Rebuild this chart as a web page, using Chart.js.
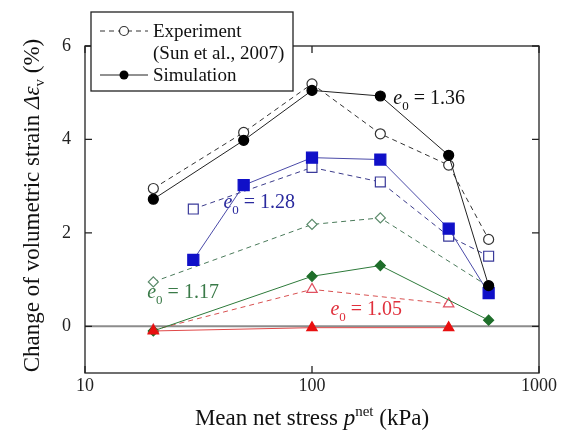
<!DOCTYPE html>
<html><head><meta charset="utf-8">
<script src="https://cdn.jsdelivr.net/npm/chart.js@4"></script>
<style>html,body{margin:0;padding:0;background:#fff;}</style>
</head><body>
<canvas id="c" width="563" height="432" style="display:block;width:563px;height:432px"></canvas>
<script>
// ---- data ----
const xTicks = [10, 100, 1000];
const yTicks = [0, 2, 4, 6];

const xExp136 = [20, 50, 100, 200, 400, 600];
const yExp136 = [2.95, 4.15, 5.19, 4.12, 3.45, 1.86];
const xSim136 = [20, 50, 100, 200, 400, 600];
const ySim136 = [2.72, 3.98, 5.05, 4.93, 3.66, 0.87];

const xExp128 = [30, 100, 200, 400, 600];
const yExp128 = [2.51, 3.40, 3.09, 1.93, 1.50];
const xSim128 = [30, 50, 100, 200, 400, 600];
const ySim128 = [1.42, 3.02, 3.61, 3.57, 2.09, 0.71];

const xExp117 = [20, 100, 200, 600];
const yExp117 = [0.95, 2.18, 2.32, 0.85];
const xSim117 = [20, 100, 200, 600];
const ySim117 = [-0.10, 1.07, 1.30, 0.13];

const xExp105 = [20, 100, 400];
const yExp105 = [-0.08, 0.79, 0.48];
const xSim105 = [20, 100, 400];
const ySim105 = [-0.10, -0.03, -0.03];

const legendLabels = ['Experiment', '(Sun et al., 2007)', 'Simulation'];
const e0Labels = ['1.36', '1.28', '1.17', '1.05'];
// annotation anchor points in data coordinates
const e0AnchorX = [228, 40.7, 18.8, 120.6];
const e0AnchorY = [4.75, 2.54, 0.61, 0.25];
const e0Colors = ['#111111', '#2a2a9e', '#3a7a48', '#e0303c'];

const pts = (xs, ys) => xs.map((x, i) => ({x: x, y: ys[i]}));
const FONT = '"Liberation Serif","Times New Roman",serif';

function ds(xs, ys, o) {
  return Object.assign({
    data: pts(xs, ys), showLine: true, tension: 0, borderWidth: 1,
    pointBorderWidth: 1.2, pointHoverRadius: 0
  }, o);
}

const datasets = [
  ds(xSim105, ySim105, {borderColor: '#e04848', pointStyle: 'triangle', pointRadius: 6, pointBackgroundColor: '#e81010', pointBorderColor: '#e81010'}),
  ds(xSim136, ySim136, {borderColor: '#222', pointStyle: 'circle', pointRadius: 5, pointBackgroundColor: '#000', pointBorderColor: '#000'}),
  ds(xSim128, ySim128, {borderColor: '#4a4aa8', pointStyle: 'rect', pointRadius: 7.8, pointBackgroundColor: '#1010c8', pointBorderColor: '#1010c8'}),
  ds(xSim117, ySim117, {borderColor: '#2d7a3a', pointStyle: 'rectRot', pointRadius: 5, pointBackgroundColor: '#1e6e2a', pointBorderColor: '#1e6e2a'}),
  ds(xExp136, yExp136, {borderColor: '#333', borderDash: [5, 4], pointStyle: 'circle', pointRadius: 5, pointBackgroundColor: '#fff', pointBorderColor: '#333'}),
  ds(xExp128, yExp128, {borderColor: '#3a3a8a', borderDash: [5, 4], pointStyle: 'rect', pointRadius: 7, pointBackgroundColor: '#fff', pointBorderColor: '#3a3a9a'}),
  ds(xExp117, yExp117, {borderColor: '#4a7a5a', borderDash: [5, 4], pointStyle: 'rectRot', pointRadius: 5, pointBackgroundColor: '#fff', pointBorderColor: '#5a8a6a'}),
  ds(xExp105, yExp105, {borderColor: '#d85050', borderDash: [5, 4], pointStyle: 'triangle', pointRadius: 6, pointBackgroundColor: '#fff', pointBorderColor: '#e05060'})
];

function drawRuns(ctx, parts, x, y, align) {
  let w = 0;
  parts.forEach(p => {
    ctx.font = (p.it ? 'italic ' : '') + p.sz + 'px ' + FONT;
    p.w = ctx.measureText(p.t).width; w += p.w;
  });
  let cx = align === 'center' ? x - w / 2 : x;
  ctx.textAlign = 'left'; ctx.textBaseline = 'alphabetic';
  parts.forEach(p => {
    ctx.font = (p.it ? 'italic ' : '') + p.sz + 'px ' + FONT;
    ctx.fillText(p.t, cx, y + (p.dy || 0));
    cx += p.w;
  });
}

const decor = {
  id: 'decor',
  beforeDatasetsDraw(chart) {
    const {ctx, chartArea: a, scales: {y}} = chart;
    ctx.save();
    ctx.strokeStyle = '#8c8c8c'; ctx.lineWidth = 2;
    const y0 = y.getPixelForValue(0);
    ctx.beginPath(); ctx.moveTo(a.left, y0); ctx.lineTo(a.right, y0); ctx.stroke();
    ctx.restore();
  },
  afterDatasetsDraw(chart) {
    const {ctx, chartArea: a, scales: {x, y}} = chart;
    ctx.save();
    ctx.strokeStyle = '#222'; ctx.lineWidth = 1.3;
    ctx.strokeRect(a.left, a.top, a.right - a.left, a.bottom - a.top);
    ctx.beginPath();
    yTicks.forEach(v => {
      const py = y.getPixelForValue(v);
      ctx.moveTo(a.left, py); ctx.lineTo(a.left + 7, py);
      ctx.moveTo(a.right, py); ctx.lineTo(a.right - 7, py);
    });
    xTicks.forEach(v => {
      const px = x.getPixelForValue(v);
      ctx.moveTo(px, a.bottom); ctx.lineTo(px, a.bottom - 7);
      ctx.moveTo(px, a.top); ctx.lineTo(px, a.top + 7);
    });
    ctx.stroke();

    // e0 annotations
    e0Labels.forEach((t, i) => {
      ctx.fillStyle = e0Colors[i];
      drawRuns(ctx, [
        {t: 'e', it: true, sz: 20},
        {t: '0', sz: 13, dy: 6},
        {t: ' = ' + t, sz: 20}
      ], x.getPixelForValue(e0AnchorX[i]), y.getPixelForValue(e0AnchorY[i]), 'left');
    });

    // axis titles
    ctx.fillStyle = '#111';
    drawRuns(ctx, [
      {t: 'Mean net stress ', sz: 23},
      {t: 'p', it: true, sz: 23},
      {t: 'net', sz: 15, dy: -9},
      {t: ' (kPa)', sz: 23}
    ], (a.left + a.right) / 2, 425, 'center');
    ctx.save();
    ctx.translate(39, (a.top + a.bottom) / 2 - 4);
    ctx.rotate(-Math.PI / 2);
    drawRuns(ctx, [
      {t: 'Change of volumetric strain ', sz: 23},
      {t: 'Δε', it: true, sz: 23},
      {t: 'v', sz: 15, dy: 5},
      {t: ' (%)', sz: 23}
    ], 0, 0, 'center');
    ctx.restore();
    ctx.restore();
  },
  afterDraw(chart) {
    const ctx = chart.ctx;
    ctx.save();
    // legend box
    ctx.fillStyle = '#fff';
    ctx.fillRect(91, 12, 202, 79);
    ctx.strokeStyle = '#222'; ctx.lineWidth = 1.3;
    ctx.strokeRect(91, 12, 202, 79);
    // experiment symbol
    ctx.strokeStyle = '#333'; ctx.lineWidth = 1;
    ctx.setLineDash([5, 4]);
    ctx.beginPath(); ctx.moveTo(100, 31); ctx.lineTo(148, 31); ctx.stroke();
    ctx.setLineDash([]);
    ctx.beginPath(); ctx.arc(124, 31, 4.5, 0, Math.PI * 2);
    ctx.fillStyle = '#fff'; ctx.fill(); ctx.lineWidth = 1.2; ctx.stroke();
    // simulation symbol
    ctx.strokeStyle = '#222'; ctx.lineWidth = 1;
    ctx.beginPath(); ctx.moveTo(100, 75); ctx.lineTo(148, 75); ctx.stroke();
    ctx.beginPath(); ctx.arc(124, 75, 4.5, 0, Math.PI * 2);
    ctx.fillStyle = '#000'; ctx.fill();
    // texts
    ctx.fillStyle = '#111';
    ctx.font = '19px ' + FONT;
    ctx.textAlign = 'left'; ctx.textBaseline = 'alphabetic';
    ctx.fillText(legendLabels[0], 153, 37);
    ctx.fillText(legendLabels[1], 153, 59);
    ctx.fillText(legendLabels[2], 153, 81);
    ctx.restore();
  }
};

new Chart(document.getElementById('c'), {
  type: 'scatter',
  data: {datasets: datasets},
  options: {
    responsive: false, animation: false, devicePixelRatio: 1,
    layout: {padding: {left: 0, right: 24, top: 46, bottom: 0}},
    plugins: {legend: {display: false}, tooltip: {enabled: false}},
    events: [],
    scales: {
      x: {
        type: 'logarithmic', min: 10, max: 1000,
        grid: {display: false}, border: {display: false},
        afterBuildTicks: s => { s.ticks = xTicks.map(v => ({value: v})); },
        afterFit: s => { s.height = 59; },
        ticks: {autoSkip: false, maxRotation: 0, padding: -6, color: '#222',
          font: {family: FONT, size: 18}, callback: v => String(v)}
      },
      y: {
        type: 'linear', min: -1, max: 6,
        grid: {display: false}, border: {display: false},
        afterBuildTicks: s => { s.ticks = yTicks.map(v => ({value: v})); },
        afterFit: s => { s.width = 85; },
        ticks: {padding: 6, color: '#222', font: {family: FONT, size: 18}, callback: v => String(v)}
      }
    }
  },
  plugins: [decor]
});
</script>
</body></html>
